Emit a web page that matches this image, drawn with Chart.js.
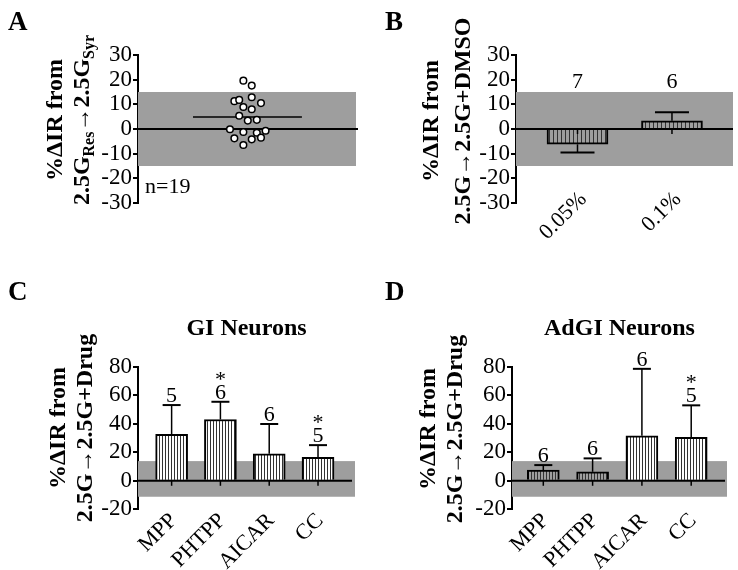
<!DOCTYPE html>
<html>
<head>
<meta charset="utf-8">
<script src="https://cdn.jsdelivr.net/npm/chart.js@4.4.1/dist/chart.umd.min.js"></script>
<style>
  body { margin: 0; background: #fff; }
  #wrap { position: relative; width: 738px; height: 570px; }
  canvas { position: absolute; }
</style>
</head>
<body>
<div id="wrap">
  <canvas id="chartA" width="369" height="265" style="left:0;top:0"></canvas>
  <canvas id="chartB" width="369" height="265" style="left:369px;top:0"></canvas>
  <canvas id="chartC" width="369" height="305" style="left:0;top:265px"></canvas>
  <canvas id="chartD" width="369" height="305" style="left:369px;top:265px"></canvas>
</div>
<script>
// ---- data ----
const scatterValues = [19.6, 17.6, 12.9, 11.3, 11.8, 8.9, 8.0, 10.5, 5.4, 3.4, 3.7, -0.1, -1.2, -1.5, -0.7, -3.8, -3.5, -4.2, -6.5];
const scatterJitter = [0.479, 0.517, 0.517, 0.438, 0.460, 0.479, 0.517, 0.559, 0.460, 0.499, 0.540, 0.418, 0.479, 0.540, 0.580, 0.438, 0.559, 0.517, 0.479];
const scatterMean = 4.9;
const meanSpan = [0.25, 0.745];

const dmsoLabels = ['0.05%', '0.1%'];
const dmsoValues = [-6.2, 3.3];
const dmsoErrors = [3.3, 3.5];
const dmsoN = ['7', '6'];

const drugLabels = ['MPP', 'PHTPP', 'AICAR', 'CC'];
const giValues = [32.5, 43.0, 18.9, 16.4];
const giErrors = [20.6, 12.4, 20.9, 8.6];
const giN = ['5', '6', '6', '5'];
const giStars = [false, true, false, true];

const adgiValues = [7.5, 6.3, 31.6, 30.4];
const adgiErrors = [3.5, 9.4, 46.9, 22.5];
const adgiN = ['6', '6', '6', '5'];
const adgiStars = [false, false, false, true];

const bandAB = [-15, 15];
const bandCD = [-11.2, 13.8];

const ticksAB = [-30, 30, 10];
const ticksCD = [-20, 80, 20];

// ---- styling ----
const SERIF = "'Liberation Serif', 'Times New Roman', serif";
const BAND = '#9e9e9e';
Chart.defaults.font.family = SERIF;
Chart.defaults.font.size = 23;
Chart.defaults.color = '#000';

function hatch(canvasId, bg, gap) {
  const c = document.createElement('canvas');
  c.width = gap; c.height = 4;
  const x = c.getContext('2d');
  x.fillStyle = bg; x.fillRect(0, 0, gap, 4);
  x.fillStyle = '#333'; x.fillRect(0, 0, 1, 4);
  return document.getElementById(canvasId).getContext('2d').createPattern(c, 'repeat');
}

function drawRotLine(ctx, segs, bx, cy) {
  const MAIN = 'bold 24px ' + SERIF, SUB = 'bold 16px ' + SERIF;
  ctx.save();
  ctx.translate(bx, cy);
  ctx.rotate(-Math.PI / 2);
  ctx.textBaseline = 'alphabetic';
  ctx.textAlign = 'left';
  let w = 0;
  for (const [t, s] of segs) { ctx.font = s ? SUB : MAIN; w += ctx.measureText(t).width; }
  let x = -w / 2;
  for (const [t, s] of segs) {
    ctx.font = s ? SUB : MAIN;
    ctx.fillText(t, x, s ? 5 : 0);
    x += ctx.measureText(t).width;
  }
  ctx.restore();
}

// one plugin per panel: band, zero line, error bars, n labels, titles
function panelPlugin(p) {
  return {
    id: 'panel',
    beforeDatasetsDraw(chart) {
      const { ctx, chartArea: a, scales: { y } } = chart;
      ctx.save();
      ctx.fillStyle = BAND;
      const y1 = y.getPixelForValue(p.band[1]), y0 = y.getPixelForValue(p.band[0]);
      ctx.fillRect(a.left, y1, a.right - a.left - (p.bandInset || 0), y0 - y1);
      ctx.restore();
      if (!p.zeroOnTop) drawZero(chart);
    },
    afterDatasetsDraw(chart) {
      const { ctx, scales: { x, y } } = chart;
      if (p.zeroOnTop) drawZero(chart);
      if (p.values) {
        ctx.save();
        ctx.strokeStyle = '#000';
        ctx.fillStyle = '#000';
        p.values.forEach((v, i) => {
          const px = x.getPixelForValue(i);
          const sgn = v >= 0 ? 1 : -1;
          const yb = y.getPixelForValue(v);
          const ye = y.getPixelForValue(v + sgn * p.errors[i]);
          ctx.lineWidth = 1.5;
          ctx.beginPath(); ctx.moveTo(px, yb); ctx.lineTo(px, ye); ctx.stroke();
          ctx.lineWidth = 2;
          ctx.beginPath(); ctx.moveTo(px - p.cap / 2, ye); ctx.lineTo(px + p.cap / 2, ye); ctx.stroke();
          // n labels
          ctx.font = '22px ' + SERIF;
          ctx.textAlign = 'center';
          ctx.textBaseline = 'alphabetic';
          const ny = p.nAt !== undefined ? y.getPixelForValue(p.nAt) : Math.min(ye, yb) - 3;
          ctx.fillText(p.n[i], px, ny);
          if (p.stars && p.stars[i]) {
            ctx.fillText('*', px, ny - 13);
          }
        });
        ctx.restore();
      }
    },
    afterDraw(chart) {
      const { ctx, chartArea: a, scales: { x } } = chart;
      ctx.save();
      ctx.fillStyle = '#000';
      ctx.font = 'bold 27px ' + SERIF;
      ctx.textAlign = 'left';
      ctx.textBaseline = 'alphabetic';
      ctx.fillText(p.letter, p.letterPos[0], p.letterPos[1]);
      if (p.title) {
        ctx.font = 'bold 24px ' + SERIF;
        ctx.textAlign = 'center';
        ctx.fillText(p.title, (a.left + a.right) / 2, p.titleY);
      }
      if (p.note) {
        ctx.font = '22px ' + SERIF;
        ctx.textAlign = 'left';
        ctx.fillText(p.note, p.notePos[0], p.notePos[1]);
      }
      // rotated category labels
      if (p.cats) {
        ctx.font = '22px ' + SERIF;
        ctx.textAlign = 'right';
        p.cats.forEach((c, i) => {
          ctx.save();
          ctx.translate(x.getPixelForValue(i) + p.catOff[0], a.bottom + p.catOff[1]);
          ctx.rotate(-Math.PI / 4);
          ctx.fillText(c, 0, 0);
          ctx.restore();
        });
      }
      drawRotLine(ctx, p.yTitle[0], p.yTitleX[0], p.yTitleY);
      drawRotLine(ctx, p.yTitle[1], p.yTitleX[1], p.yTitleY);
      ctx.restore();
    }
  };
  function drawZero(chart) {
    const { ctx, chartArea: a, scales: { x, y } } = chart;
    const yz = y.getPixelForValue(0);
    ctx.save();
    ctx.strokeStyle = '#000';
    ctx.lineWidth = 2;
    ctx.beginPath(); ctx.moveTo(a.left, yz); ctx.lineTo(a.right - (p.zeroInset || 0), yz); ctx.stroke();
    if (p.values) {
      ctx.lineWidth = 1.5;
      p.values.forEach((v, i) => {
        const px = x.getPixelForValue(i);
        ctx.beginPath(); ctx.moveTo(px, yz); ctx.lineTo(px, yz + 5); ctx.stroke();
      });
    }
    ctx.restore();
  }
}

function yScale(t, width) {
  return {
    min: t[0], max: t[1],
    ticks: { stepSize: t[2], padding: 1, autoSkip: false, color: '#000', font: { size: 23 } },
    grid: { drawOnChartArea: false, drawTicks: true, tickLength: 5, color: '#000', lineWidth: 2 },
    border: { color: '#000', width: 2 },
    afterFit: s => { s.width = width; }
  };
}

function catScale(n, min, max) {
  return {
    type: 'linear', min: min, max: max, offset: false, display: false,
    afterBuildTicks: s => { s.ticks = n.map((_, i) => ({ value: i })); }
  };
}

const common = {
  responsive: false,
  animation: false,
  events: [],
  plugins: { legend: { display: false }, tooltip: { enabled: false } }
};

// ---- A ----
new Chart(document.getElementById('chartA'), {
  type: 'scatter',
  data: {
    datasets: [
      {
        data: scatterValues.map((v, i) => ({ x: scatterJitter[i], y: v })),
        pointRadius: 3.3, pointBorderWidth: 1.5,
        pointBackgroundColor: '#fff', pointBorderColor: '#000', order: 1
      },
      {
        data: meanSpan.map(x => ({ x: x, y: scatterMean })),
        showLine: true, borderColor: '#000', borderWidth: 1.5, pointRadius: 0, order: 2
      }
    ]
  },
  options: Object.assign({}, common, {
    layout: { padding: { left: 0, right: 11, top: 55, bottom: 62 } },
    scales: {
      x: { type: 'linear', min: 0, max: 1, display: false },
      y: yScale(ticksAB, 138)
    }
  }),
  plugins: [panelPlugin({
    letter: 'A', letterPos: [8, 30],
    band: bandAB, bandInset: 2, zeroOnTop: false,
    note: 'n=19', notePos: [145, 193],
    yTitle: [[['%ΔIR from', 0]], [['2.5G', 0], ['Res', 1], ['→2.5G', 0], ['Syr', 1]]],
    yTitleX: [62, 89], yTitleY: 120
  })]
});

// ---- B ----
new Chart(document.getElementById('chartB'), {
  type: 'bar',
  data: {
    datasets: [{
      data: dmsoValues.map((v, i) => ({ x: i, y: v })),
      barThickness: 61,
      backgroundColor: hatch('chartB', BAND, 4),
      borderColor: '#000', borderWidth: 2
    }]
  },
  options: Object.assign({}, common, {
    layout: { padding: { left: 0, right: 5, top: 55, bottom: 62 } },
    scales: {
      x: catScale(dmsoLabels, -0.651, 1.646),
      y: yScale(ticksAB, 147)
    }
  }),
  plugins: [panelPlugin({
    letter: 'B', letterPos: [16, 30],
    band: bandAB, zeroOnTop: true,
    values: dmsoValues, errors: dmsoErrors, n: dmsoN, nAt: 16.7, cap: 34,
    cats: dmsoLabels, catOff: [10, -3],
    yTitle: [[['%ΔIR from', 0]], [['2.5G→2.5G+DMSO', 0]]],
    yTitleX: [69, 101], yTitleY: 121
  })]
});

// ---- C ----
new Chart(document.getElementById('chartC'), {
  type: 'bar',
  data: {
    datasets: [{
      data: giValues.map((v, i) => ({ x: i, y: v })),
      barThickness: 32,
      backgroundColor: hatch('chartC', '#fff', 3),
      borderColor: '#000', borderWidth: 2
    }]
  },
  options: Object.assign({}, common, {
    layout: { padding: { left: 0, right: 14, top: 101.7, bottom: 60.7 } },
    scales: {
      x: catScale(drugLabels, -0.689, 3.758),
      y: yScale(ticksCD, 138)
    }
  }),
  plugins: [panelPlugin({
    letter: 'C', letterPos: [8, 35],
    title: 'GI Neurons', titleY: 70,
    band: bandCD, zeroOnTop: true, zeroInset: 3,
    values: giValues, errors: giErrors, n: giN, stars: giStars, cap: 18,
    cats: drugLabels, catOff: [6, 12],
    yTitle: [[['%ΔIR from', 0]], [['2.5G→2.5G+Drug', 0]]],
    yTitleX: [65, 92], yTitleY: 163
  })]
});

// ---- D ----
new Chart(document.getElementById('chartD'), {
  type: 'bar',
  data: {
    datasets: [{
      data: adgiValues.map((v, i) => ({ x: i, y: v })),
      barThickness: 32,
      backgroundColor: [hatch('chartD', BAND, 3), hatch('chartD', BAND, 3), hatch('chartD', '#fff', 3), hatch('chartD', '#fff', 3)],
      borderColor: '#000', borderWidth: 2
    }]
  },
  options: Object.assign({}, common, {
    layout: { padding: { left: 0, right: 11, top: 101.7, bottom: 60.7 } },
    scales: {
      x: catScale(drugLabels, -0.635, 3.726),
      y: yScale(ticksCD, 143)
    }
  }),
  plugins: [panelPlugin({
    letter: 'D', letterPos: [16, 35],
    title: 'AdGI Neurons', titleY: 70,
    band: bandCD, zeroOnTop: true, zeroInset: 2,
    values: adgiValues, errors: adgiErrors, n: adgiN, stars: adgiStars, cap: 18,
    cats: drugLabels, catOff: [6, 12],
    yTitle: [[['%ΔIR from', 0]], [['2.5G→2.5G+Drug', 0]]],
    yTitleX: [66, 93], yTitleY: 164
  })]
});
</script>
</body>
</html>
